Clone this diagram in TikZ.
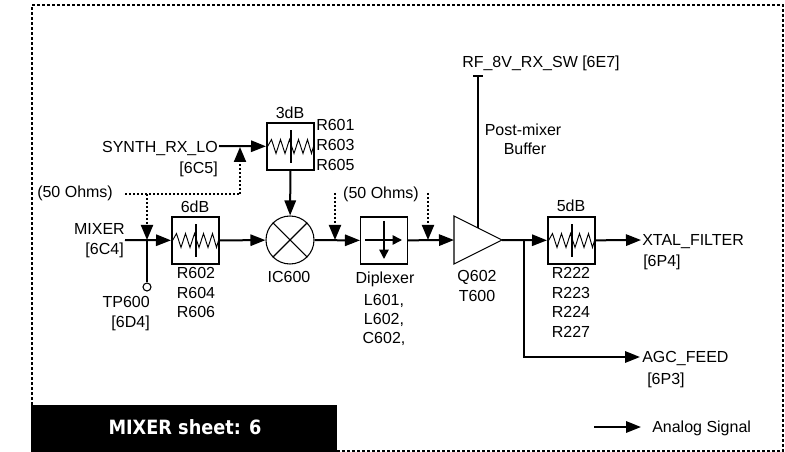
\documentclass[tikz,border=0pt]{standalone}
\usepackage{fontspec}
\setmainfont{Liberation Sans}
\newfontfamily\sheetfont{DejaVu Sans Condensed}
\usetikzlibrary{arrows.meta}
\tikzset{
  lbl/.style={inner sep=0pt,text height=8.6pt,text depth=0pt,font=\fontsize{12}{14}\selectfont},
  attbox/.style={draw,line width=1.5pt,minimum size=35.25pt,inner sep=0pt},
  thinbox/.style={draw,line width=.8pt,minimum size=35.25pt,inner sep=0pt},
  sig/.style={line width=1.5pt},
  sigarrow/.style={line width=1.5pt,-{Triangle[length=11.25pt,width=8.5pt]}},
  dotarrow/.style={line width=1.5pt,dash pattern=on 1.5pt off 1.5pt,-{Triangle[length=11.25pt,width=9pt]}},
  dotline/.style={line width=1.5pt,dash pattern=on 1.5pt off 1.5pt},
  frameline/.style={line width=1.5pt,dash pattern=on 2.25pt off 1.5pt},
}
% resistor symbol inside an attenuator box
\newcommand{\attzig}[1]{
  \draw[line width=.7pt,shift={(#1.center)}] (-23,0) -- (-19,-7) -- (-14.5,7) -- (-10,-7) -- (-5.5,7) -- (-1,-7) -- (3.5,7) -- (8,-7) -- (12.5,7) -- (17,-7) -- (21,7) -- (23,0);
  \draw[line width=1.5pt,shift={(#1.center)}] (0,-16) -- (0,17);
}
\begin{document}
\begin{tikzpicture}[x=.75pt,y=-.75pt,>=latex]
  \useasboundingbox (0,0) rectangle (785,452);
  % frame and title
  \path[draw,frameline] (32,405) -- (32,5) -- (783,5) -- (783,451) -- (337,451);
  \node[fill=black,minimum width=229.5pt,minimum height=35.25pt,inner sep=0pt] (title) at (184,428.5) {};
  \node[text=white,inner sep=0pt,text height=10.5pt,text depth=0pt,font=\sheetfont\bfseries\fontsize{14.75}{16}\selectfont] (titletext) at (185,427) {MIXER sheet: 6};

  % blocks
  \node[attbox] (att3) at (290.5,146.5) {};
  \node[attbox] (att6) at (195.5,240.5) {};
  \node[attbox] (att5) at (571.5,240.5) {};
  \attzig{att3}
  \attzig{att6}
  \attzig{att5}
  \node[circle,draw,line width=.8pt,minimum size=36pt,inner sep=0pt] (ic) at (290,240) {};
  \path[draw,line width=.8pt] (ic.45) -- (ic.225);
  \path[draw,line width=.8pt] (ic.135) -- (ic.315);
  \node[thinbox] (dip) at (384,240.5) {};
  \coordinate (dipw) at (365,240);
  \coordinate (dipe) at (402,240);
  \coordinate (dipn) at (384,221);
  \coordinate (dips) at (384,259);
  \path[draw,line width=1.1pt,-{Triangle[length=7pt,width=7pt]}] (dipw) -- (dipe);
  \path[draw,line width=1.1pt,-{Triangle[length=7pt,width=7pt]}] (dipn) -- (dips);
  \coordinate (ampa) at (454,216);
  \coordinate (ampb) at (454,264);
  \coordinate (amp) at (502,240);
  \path[draw,line width=.8pt] (ampa) -- (amp) -- (ampb) -- cycle;
  \coordinate (ampw) at (454,240);
  \coordinate (amptop) at (478,228);
  \node[circle,draw,line width=.8pt,minimum size=6pt,inner sep=0pt] (tp) at (147,287) {};

  % junctions and free ends
  \coordinate (synth) at (219,146);
  \coordinate (mixer) at (125,240);
  \coordinate (mixj) at (147,240);
  \coordinate (dotsa) at (125,194);
  \coordinate (dotsb) at (240,194);
  \coordinate (dotsc) at (147,194);
  \coordinate (synthj) at (240,147);
  \coordinate (dotd) at (335,193);
  \coordinate (dotdj) at (335,240);
  \coordinate (dote) at (428,193);
  \coordinate (dotej) at (428,240);
  \coordinate (agcj) at (524,240);
  \coordinate (agcc) at (524,357);
  \coordinate (agc) at (640,357);
  \coordinate (xtal) at (641,240);
  \coordinate (rail) at (478,76);
  \coordinate (raila) at (473,76);
  \coordinate (railb) at (483,76);
  \coordinate (lega) at (594,427);
  \coordinate (legb) at (641,427);

  % signal lines
  \path[draw,sigarrow] (synth) -- (att3);
  \path[draw,sigarrow] (att3) -- (ic);
  \path[draw,sigarrow] (mixer) -- (att6);
  \path[draw,sig] (mixj) -- (tp);
  \path[draw,sigarrow] (att6) -- (ic);
  \path[draw,sigarrow] (ic) -- (dip);
  \path[draw,sigarrow] (dip) -- (ampw);
  \path[draw,sigarrow] (amp) -- (att5);
  \path[draw,sigarrow] (att5) -- (xtal);
  \path[draw,sigarrow] (agcj) -- (agcc) -- (agc);
  \path[draw,sig] (amptop) -- (rail);
  \path[draw,sig] (raila) -- (railb);
  \path[draw,sigarrow] (lega) -- (legb);

  % 50 ohm markers
  \path[draw,dotline] (dotsa) -- (dotsb);
  \path[draw,dotarrow] (dotsb) -- (synthj);
  \path[draw,dotarrow] (dotsc) -- (mixj);
  \path[draw,dotarrow] (dotd) -- (dotdj);
  \path[draw,dotarrow] (dote) -- (dotej);

  % labels
  \node[lbl] (l3db) at (290,113) {3dB};
  \node[lbl,anchor=west] (r601) at (316,125) {R601};
  \node[lbl,anchor=west] (r603) at (316,145) {R603};
  \node[lbl,anchor=west] (r605) at (316,165) {R605};
  \node[lbl,anchor=east] (lsynth) at (218,147) {SYNTH\_RX\_LO};
  \node[lbl,anchor=east] (l6c5) at (218,168) {[6C5]};
  \node[lbl,anchor=west] (lohma) at (37,192) {(50 Ohms)};
  \node[lbl] (l6db) at (195,207) {6dB};
  \node[lbl,anchor=east] (lmixer) at (125,229) {MIXER};
  \node[lbl,anchor=east] (l6c4) at (124,249) {[6C4]};
  \node[lbl,anchor=east] (ltp) at (150,302) {TP600};
  \node[lbl,anchor=east] (l6d4) at (150,322) {[6D4]};
  \node[lbl] (r602) at (196,273) {R602};
  \node[lbl] (r604) at (196,293) {R604};
  \node[lbl] (r606) at (196,312) {R606};
  \node[lbl] (lic) at (289,277) {IC600};
  \node[lbl] (lohmb) at (381,193) {(50 Ohms)};
  \node[lbl] (ldip) at (385,277.5) {Diplexer};
  \node[lbl] (l601) at (384,300) {L601,};
  \node[lbl] (l602) at (384,319) {L602,};
  \node[lbl] (c602) at (384,338) {C602,};
  \node[lbl] (q602) at (477,276) {Q602};
  \node[lbl] (t600) at (477,296) {T600};
  \node[lbl] (l5db) at (571,206) {5dB};
  \node[lbl] (r222) at (571,273) {R222};
  \node[lbl] (r223) at (571,293) {R223};
  \node[lbl] (r224) at (571,312) {R224};
  \node[lbl] (r227) at (571,332) {R227};
  \node[lbl,anchor=west] (lxtal) at (642,240) {XTAL\_FILTER};
  \node[lbl,anchor=west] (l6p4) at (643,261) {[6P4]};
  \node[lbl,anchor=west] (lagc) at (642,357) {AGC\_FEED};
  \node[lbl,anchor=west] (l6p3) at (647,379) {[6P3]};
  \node[lbl,anchor=west] (lrail) at (462,62) {RF\_8V\_RX\_SW [6E7]};
  \node[lbl] (lpost) at (523,130) {Post-mixer};
  \node[lbl] (lbuf) at (525,149) {Buffer};
  \node[lbl,anchor=west] (lleg) at (652,427) {Analog Signal};
\end{tikzpicture}
\end{document}
